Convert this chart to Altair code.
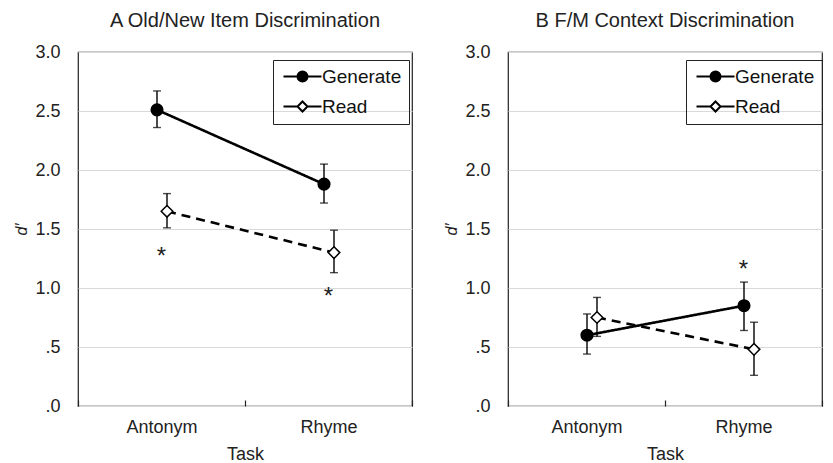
import altair as alt
import pandas as pd

tasks = ["Antonym", "Rhyme"]
conditions = ["Generate", "Read"]
y_ticks = [0, 0.5, 1.0, 1.5, 2.0, 2.5, 3.0]

# Panel A: Old/New item discrimination (d')
a_generate = [2.51, 1.88]
a_generate_lo = [2.36, 1.72]
a_generate_hi = [2.67, 2.05]
a_read = [1.65, 1.30]
a_read_lo = [1.51, 1.13]
a_read_hi = [1.80, 1.49]
a_star_task = ["Antonym", "Rhyme"]
a_star_y = [1.30, 0.96]

# Panel B: F/M context discrimination (d')
b_generate = [0.60, 0.85]
b_generate_lo = [0.44, 0.64]
b_generate_hi = [0.78, 1.05]
b_read = [0.75, 0.48]
b_read_lo = [0.59, 0.26]
b_read_hi = [0.92, 0.71]
b_star_task = ["Rhyme"]
b_star_y = [1.19]

FONT = "Liberation Sans"
TXT = "#222222"

gen_path = "M-3.8,0H3.8M1,0A1,1,0,1,1,-1,0A1,1,0,1,1,1,0Z"
read_path = "M-3.8,0H-1M1,0H3.8M0,-1L1,0L0,1L-1,0Z"


def make_df(g, gl, gh, r, rl, rh):
    rows = []
    for i, t in enumerate(tasks):
        rows.append({"task": t, "cond": "Generate", "mean": g[i], "lo": gl[i], "hi": gh[i]})
        rows.append({"task": t, "cond": "Read", "mean": r[i], "lo": rl[i], "hi": rh[i]})
    return pd.DataFrame(rows)


def panel(df, star_task, star_y, title, width, legend_x):
    half = width / 4.0
    x_enc = alt.X(
        "task:N", sort=tasks,
        scale=alt.Scale(paddingInner=0, paddingOuter=0),
        axis=alt.Axis(title="Task", labelAngle=0, domain=False, ticks=True, tickSize=6,
                      tickBand="extent", tickColor=TXT, tickWidth=1.2, offset=-6,
                      labelPadding=12, titlePadding=9, grid=False),
    )
    xo_enc = alt.XOffset("cond:N", sort=conditions,
                         scale=alt.Scale(type="point", padding=0, range=[half - 4.5, half + 5.5]))
    y_scale = alt.Scale(domain=[0, 3])
    y_axis = alt.Axis(values=y_ticks, grid=True, ticks=False, domain=False,
                      labelExpr="datum.value < 1 ? replace(format(datum.value, '.1f'), '0.', '.') : format(datum.value, '.1f')",
                      title="d\u2032", titleFontStyle="italic", titleFontSize=16,
                      titlePadding=5, labelPadding=18)
    base = alt.Chart(df).encode(x=x_enc, xOffset=xo_enc)

    lines = base.mark_line(color="black", strokeWidth=2.6).encode(
        y=alt.Y("mean:Q", scale=y_scale, axis=y_axis),
        strokeDash=alt.StrokeDash("cond:N", scale=alt.Scale(domain=conditions, range=[[1, 0], [9, 6]]), legend=None),
    )
    rules = base.mark_rule(color="black", strokeWidth=1.4).encode(
        y=alt.Y("lo:Q", scale=y_scale), y2="hi:Q")
    cap_lo = base.mark_tick(color="black", size=8, thickness=1.4).encode(y=alt.Y("lo:Q", scale=y_scale))
    cap_hi = base.mark_tick(color="black", size=8, thickness=1.4).encode(y=alt.Y("hi:Q", scale=y_scale))
    points = base.mark_point(filled=True, stroke="black", strokeWidth=1.5, opacity=1, size=135).encode(
        y=alt.Y("mean:Q", scale=y_scale),
        shape=alt.Shape("cond:N", scale=alt.Scale(domain=conditions, range=["circle", "diamond"]), legend=None),
        fill=alt.Fill("cond:N", scale=alt.Scale(domain=conditions, range=["black", "white"]), legend=None),
    )
    star_df = pd.DataFrame({"task": star_task, "y": star_y})
    stars = alt.Chart(star_df).mark_text(text="*", fontSize=24, font=FONT, dy=11,
                                         baseline="alphabetic", color=TXT).encode(
        x=alt.X("task:N", sort=tasks), y=alt.Y("y:Q", scale=y_scale))

    leg = alt.Legend(title=None, orient="none", legendX=legend_x, legendY=8,
                     strokeColor=TXT, padding=7, labelFontSize=19, labelFont=FONT,
                     labelColor="#111111", symbolSize=100, symbolStrokeWidth=2,
                     symbolOffset=13, labelOffset=10, rowPadding=10)
    legend_layer = alt.Chart(df).transform_filter("false").mark_point(
        filled=True, stroke="black", strokeWidth=2, opacity=1).encode(
        shape=alt.Shape("cond:N", scale=alt.Scale(domain=conditions, range=[gen_path, read_path]), legend=leg),
        fill=alt.Fill("cond:N", scale=alt.Scale(domain=conditions, range=["black", "white"]), legend=leg),
    )
    return alt.layer(lines, rules, cap_lo, cap_hi, points, stars, legend_layer).resolve_scale(
        shape="independent", fill="independent"
    ).properties(
        width=width, height=354,
        title=alt.Title(title, fontSize=20, fontWeight="normal", font=FONT, color=TXT,
                        anchor="middle", offset=12),
    )


df_a = make_df(a_generate, a_generate_lo, a_generate_hi, a_read, a_read_lo, a_read_hi)
df_b = make_df(b_generate, b_generate_lo, b_generate_hi, b_read, b_read_lo, b_read_hi)

chart = alt.hconcat(
    panel(df_a, a_star_task, a_star_y, "A  Old/New Item Discrimination", 334, 195),
    panel(df_b, b_star_task, b_star_y, "B  F/M Context Discrimination", 314, 178),
    spacing=29,
).properties(
    padding={"left": 5, "top": 2, "right": 0, "bottom": 0},
    background="white",
).configure_view(
    stroke=TXT, strokeWidth=1.2
).configure_axis(
    labelFont=FONT, titleFont=FONT, labelFontSize=18, titleFontSize=18,
    labelColor=TXT, titleColor=TXT, titleFontWeight="normal",
    gridColor="#d9d9d9", gridWidth=1,
)

chart.save("out.html", embed_options={"renderer": "svg", "actions": False})
